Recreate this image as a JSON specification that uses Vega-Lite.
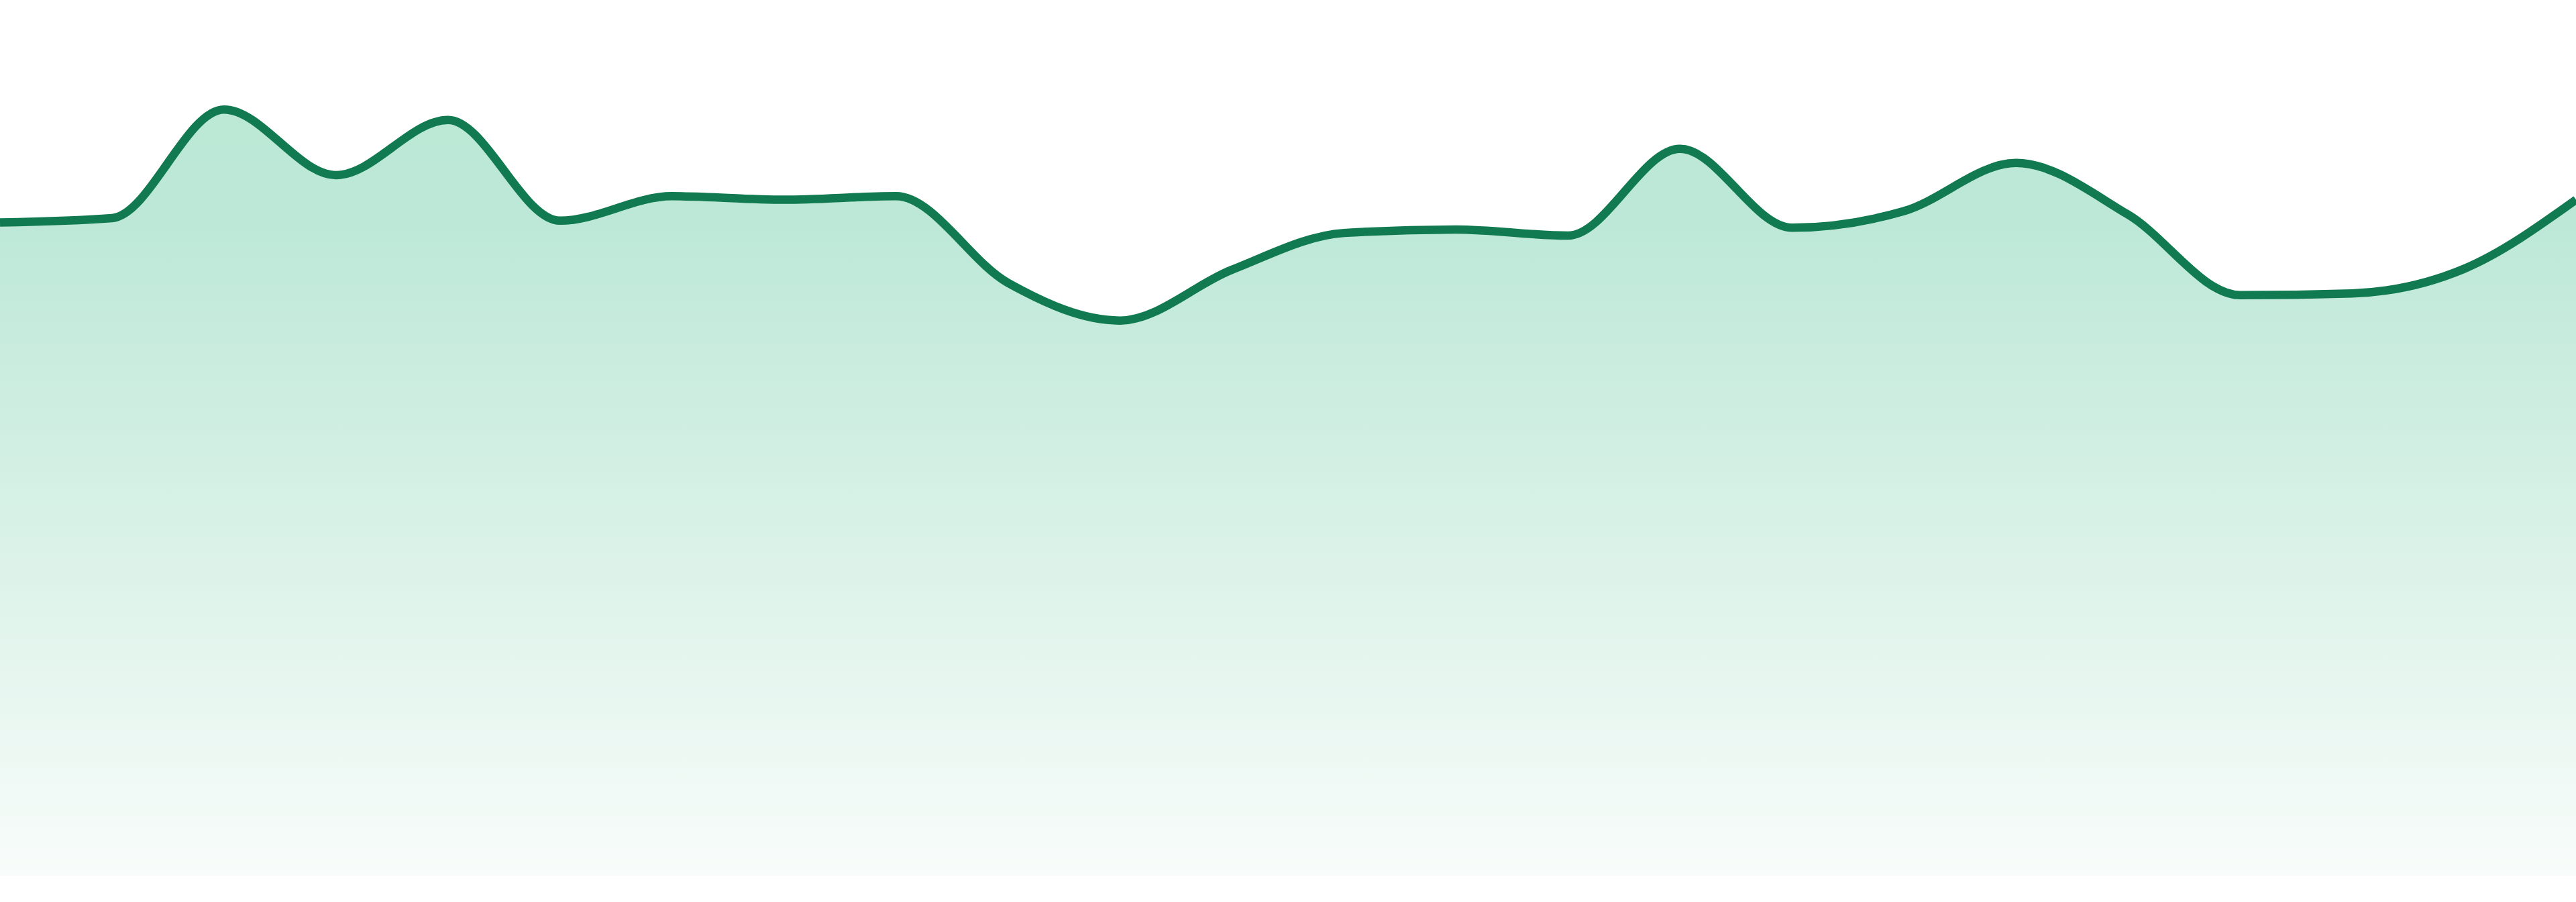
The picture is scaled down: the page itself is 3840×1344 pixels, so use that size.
{
  "$schema": "https://vega.github.io/schema/vega-lite/v6.json",
  "width": 3840,
  "height": 1305,
  "autosize": {"type": "none"},
  "padding": {"left": 0, "right": 0, "top": 0, "bottom": 39},
  "background": "white",
  "config": {"view": {"stroke": null}},
  "data": {
    "values": [
      {"i": 0, "v": 74.6}, {"i": 1, "v": 75.1}, {"i": 2, "v": 87.5}, {"i": 3, "v": 80.0},
      {"i": 4, "v": 86.3}, {"i": 5, "v": 74.8}, {"i": 6, "v": 77.6}, {"i": 7, "v": 77.2},
      {"i": 8, "v": 77.6}, {"i": 9, "v": 67.7}, {"i": 10, "v": 63.4}, {"i": 11, "v": 69.2},
      {"i": 12, "v": 73.4}, {"i": 13, "v": 73.8}, {"i": 14, "v": 73.1}, {"i": 15, "v": 83.0},
      {"i": 16, "v": 74.0}, {"i": 17, "v": 75.9}, {"i": 18, "v": 81.4}, {"i": 19, "v": 75.5},
      {"i": 20, "v": 66.3}, {"i": 21, "v": 66.5}, {"i": 22, "v": 69.3}, {"i": 23, "v": 77.2}
    ]
  },
  "encoding": {
    "x": {"field": "i", "type": "quantitative", "scale": {"domain": [0, 23], "nice": false, "zero": false}, "axis": null},
    "y": {"field": "v", "type": "quantitative", "scale": {"domain": [0, 100], "nice": false}, "axis": null}
  },
  "layer": [
    {
      "mark": {
        "type": "area",
        "interpolate": "monotone",
        "color": {
          "gradient": "linear",
          "x1": 0, "y1": 0, "x2": 0, "y2": 1,
          "stops": [
            {"offset": 0, "color": "#bce8d6"},
            {"offset": 0.15, "color": "#bde8d7"},
            {"offset": 1, "color": "#f8fcfa"}
          ]
        }
      }
    },
    {
      "mark": {"type": "line", "interpolate": "monotone", "color": "#127a50", "strokeWidth": 12.5}
    }
  ]
}
